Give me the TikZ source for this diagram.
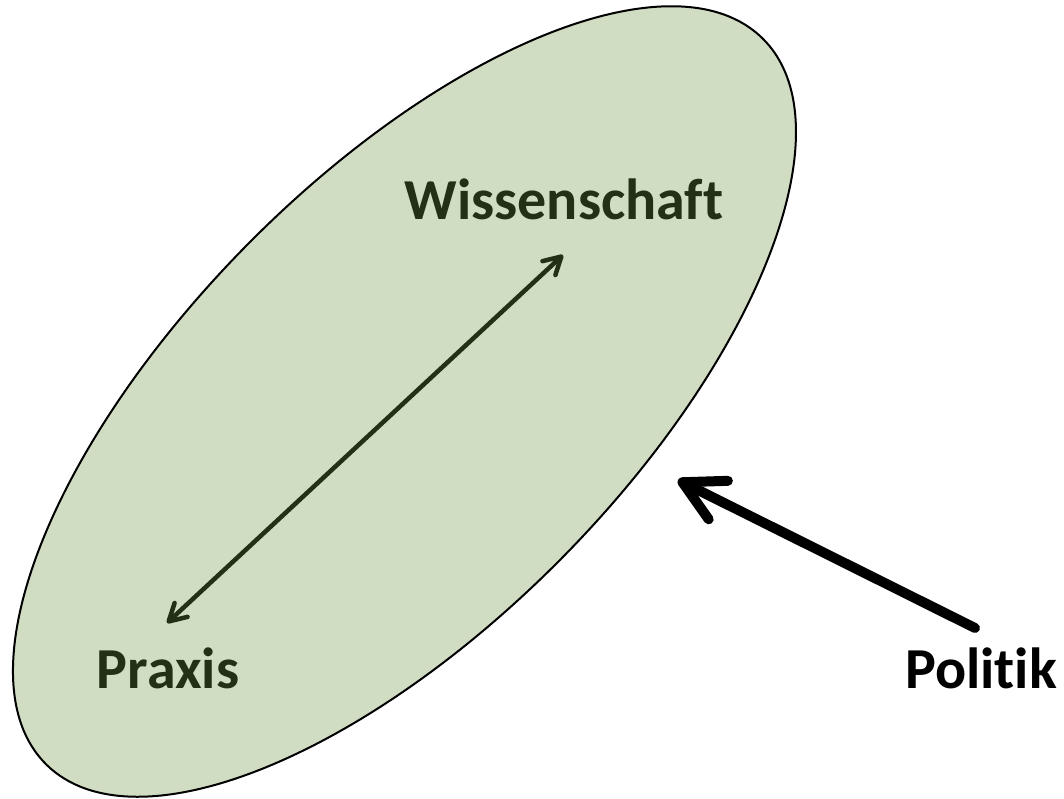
\documentclass[tikz,border=0pt]{standalone}
\usepackage{fontspec}
\setmainfont{Carlito}[Ligatures=NoCommon]
\usetikzlibrary{arrows.meta}
\definecolor{sage}{HTML}{D1DDC3}
\definecolor{darkgreen}{HTML}{243016}
\tikzset{
  lbl/.style={anchor=base, inner sep=0pt, font=\fontsize{58}{58}\selectfont\bfseries},
  twoway/.style={draw=darkgreen, line width=4.5pt, line cap=round,
    {Straight Barb[length=17pt, width=19pt, round]}-{Straight Barb[length=17pt, width=19pt, round]}},
  influence/.style={draw=black, line width=10pt, line cap=round,
    -{Straight Barb[length=40pt, width=43pt, round]}},
}
\begin{document}
\begin{tikzpicture}[x=1pt, y=-1pt]
  \useasboundingbox (0,0) rectangle (1064,799);
  \coordinate (c) at (404.5,401.5);
  \draw[fill=sage, draw=black, line width=2pt, rotate around={45.4:(c)}]
    (c) ellipse [x radius=510pt, y radius=222pt];
  \node[lbl, text=darkgreen] (wiss) at (564,220) {Wissenschaft};
  \node[lbl, text=darkgreen] (praxis) at (168,688) {Praxis};
  \node[lbl, text=black] (politik) at (981,688) {Politik};
  \coordinate (pTip) at (167,623);
  \coordinate (wTip) at (563,255);
  \coordinate (polTail) at (975,628);
  \coordinate (ellTarget) at (678,480);
  \draw[twoway] (pTip) -- (wTip);
  \draw[influence] (polTail) -- (ellTarget);
\end{tikzpicture}
\end{document}
